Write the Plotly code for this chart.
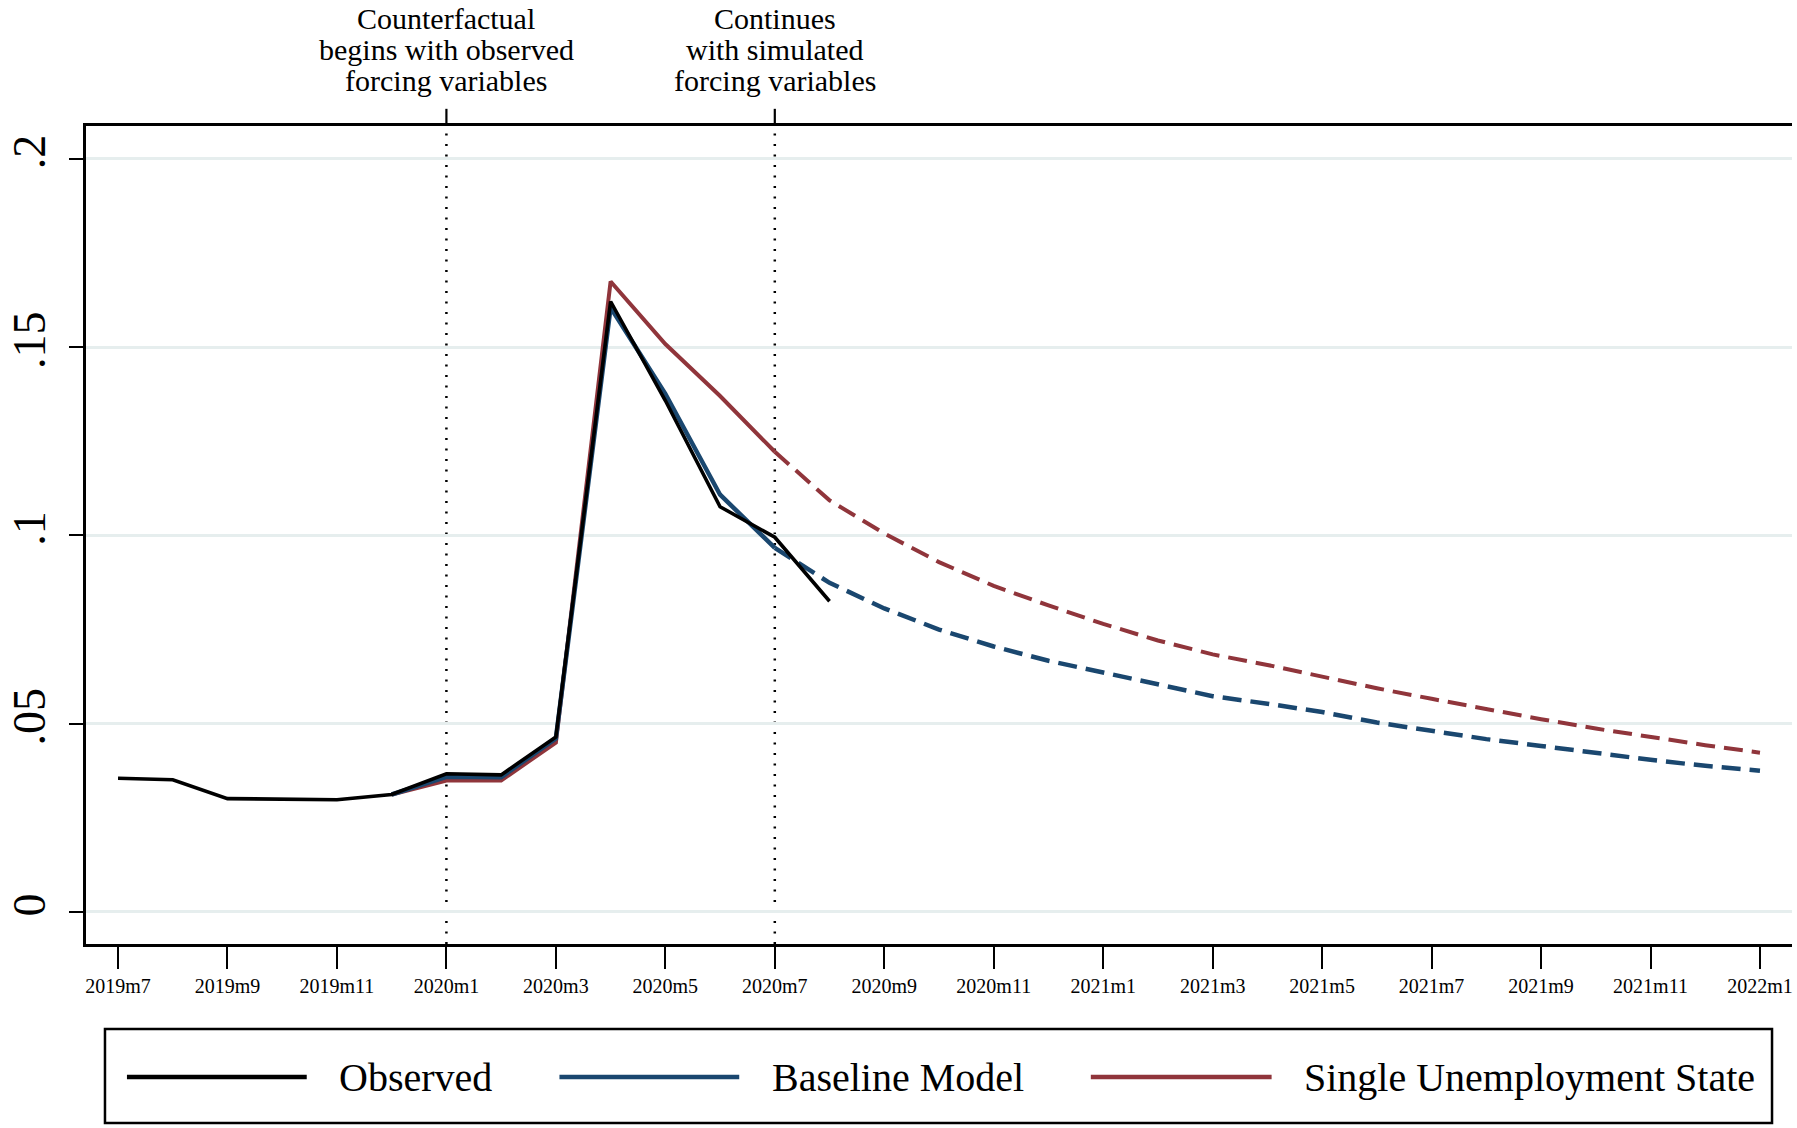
import plotly.graph_objects as go

# ---------------- data ----------------
months = ["2019m7", "2019m8", "2019m9", "2019m10", "2019m11", "2019m12",
          "2020m1", "2020m2", "2020m3", "2020m4", "2020m5", "2020m6",
          "2020m7", "2020m8", "2020m9", "2020m10", "2020m11", "2020m12",
          "2021m1", "2021m2", "2021m3", "2021m4", "2021m5", "2021m6",
          "2021m7", "2021m8", "2021m9", "2021m10", "2021m11", "2021m12",
          "2022m1"]

observed = [0.0355, 0.0351, 0.0301, 0.0299, 0.0298, 0.0312, 0.0367, 0.0364,
            0.0465, 0.1621, 0.1358, 0.1076, 0.0995, 0.0825]

baseline_start = 5  # 2019m12
baseline = [0.0312, 0.0359, 0.0358, 0.0461, 0.1605, 0.1376, 0.1108, 0.0967,
            0.0874, 0.0806, 0.0750, 0.0705, 0.0667, 0.0636, 0.0605, 0.0573,
            0.0553, 0.0531, 0.0503, 0.0481, 0.0459, 0.0441, 0.0422, 0.0404,
            0.0388, 0.0375]

single_start = 5
single = [0.0312, 0.0349, 0.0349, 0.0450, 0.1674, 0.1508, 0.1370, 0.1222,
          0.1093, 0.1005, 0.0929, 0.0866, 0.0814, 0.0765, 0.0721, 0.0684,
          0.0656, 0.0625, 0.0594, 0.0566, 0.0538, 0.0512, 0.0487, 0.0464,
          0.0443, 0.0423]

sim_start = 12  # 2020m7: simulated forcing variables begin (dashed)

event_months = ["2020m1", "2020m7"]
event_texts = [["Counterfactual", "begins with observed", "forcing variables"],
               ["Continues", "with simulated", "forcing variables"]]

xtick_labels = months[::2]
ytick_vals = [0, 0.05, 0.1, 0.15, 0.2]
ytick_text = ["0", ".05", ".1", ".15", ".2"]

series_names = ["Observed", "Baseline Model", "Single Unemployment State"]
colors = ["#000000", "#1a476f", "#90353b"]

FONT = "Liberation Serif"

# ---------------- figure ----------------
fig = go.Figure()

def add_series(vals, start, color, width):
    xs = months[start:start + len(vals)]
    cut = sim_start - start
    fig.add_trace(go.Scatter(x=xs[:cut + 1], y=vals[:cut + 1], mode="lines",
                             line=dict(color=color, width=width),
                             showlegend=False, hoverinfo="skip"))
    fig.add_trace(go.Scatter(x=xs[cut:], y=vals[cut:], mode="lines",
                             line=dict(color=color, width=width, dash="19px,9px"),
                             showlegend=False, hoverinfo="skip"))

add_series(single, single_start, colors[2], 4)
add_series(baseline, baseline_start, colors[1], 4.5)
fig.add_trace(go.Scatter(x=months[:len(observed)], y=observed, mode="lines",
                         line=dict(color=colors[0], width=3.6),
                         showlegend=False, hoverinfo="skip"))

shapes = []
annotations = []
line_ys = [1.132, 1.094, 1.056]
for m, texts in zip(event_months, event_texts):
    xi = months.index(m)
    shapes.append(dict(type="line", xref="x", yref="paper", x0=xi, x1=xi,
                       y0=0, y1=1, line=dict(color="black", width=2.5, dash="2px,8.5px"),
                       layer="below"))
    shapes.append(dict(type="line", xref="x", yref="paper", x0=xi, x1=xi,
                       y0=1, y1=1.021, line=dict(color="black", width=2.2)))
    for t, yy in zip(texts, line_ys):
        annotations.append(dict(text=t, xref="x", yref="paper", x=xi, y=yy,
                                xanchor="center", yanchor="middle", showarrow=False,
                                font=dict(family=FONT, size=30, color="black")))

# manual legend (Stata style)
W, H, L, B = 1708.0, 818.0, 85.0, 944.0
def px(xp):
    return (xp - L) / W
def py(yp):
    return (B - yp) / H

shapes.append(dict(type="rect", xref="paper", yref="paper",
                   x0=px(104), x1=px(1773), y0=py(1123), y1=py(1029),
                   line=dict(color="black", width=2.5), fillcolor="white"))
sample_x = [(126, 306), (559, 739), (1091, 1272)]
text_x = [336, 770, 1302]
for name, col, (a, b), tx in zip(series_names, colors, sample_x, text_x):
    shapes.append(dict(type="line", xref="paper", yref="paper",
                       x0=px(a), x1=px(b), y0=py(1077), y1=py(1077),
                       line=dict(color=col, width=4.5)))
    annotations.append(dict(text=name, xref="paper", yref="paper", x=px(tx), y=py(1077),
                            xanchor="left", yanchor="middle", showarrow=False,
                            font=dict(family=FONT, size=40, color="black")))

fig.update_layout(
    width=1797, height=1128,
    margin=dict(l=85, r=4, t=126, b=184),
    paper_bgcolor="white", plot_bgcolor="white",
    showlegend=False,
    shapes=shapes, annotations=annotations,
    font=dict(family=FONT, color="black"),
)

fig.update_xaxes(
    type="category", categoryorder="array", categoryarray=months,
    range=[-0.585, len(months) - 1 + 0.585],
    tickmode="array", tickvals=xtick_labels, ticktext=xtick_labels,
    ticks="outside", ticklen=22, tickwidth=2.2, tickcolor="black",
    tickfont=dict(family=FONT, size=20, color="black"),
    showline=True, linecolor="black", linewidth=2.5, mirror=True,
    showgrid=False, zeroline=False, tickangle=0,
)
fig.update_yaxes(
    range=[-0.0085, 0.2087],
    tickmode="array", tickvals=ytick_vals, ticktext=ytick_text,
    tickangle=-90, ticklabelstandoff=6,
    ticks="outside", ticklen=14, tickwidth=2.2, tickcolor="black",
    tickfont=dict(family=FONT, size=46, color="black"),
    showline=True, linecolor="black", linewidth=2.5,
    showgrid=True, gridcolor="#e6eeee", gridwidth=3,
    zeroline=False,
)

fig.write_html("out.html")
